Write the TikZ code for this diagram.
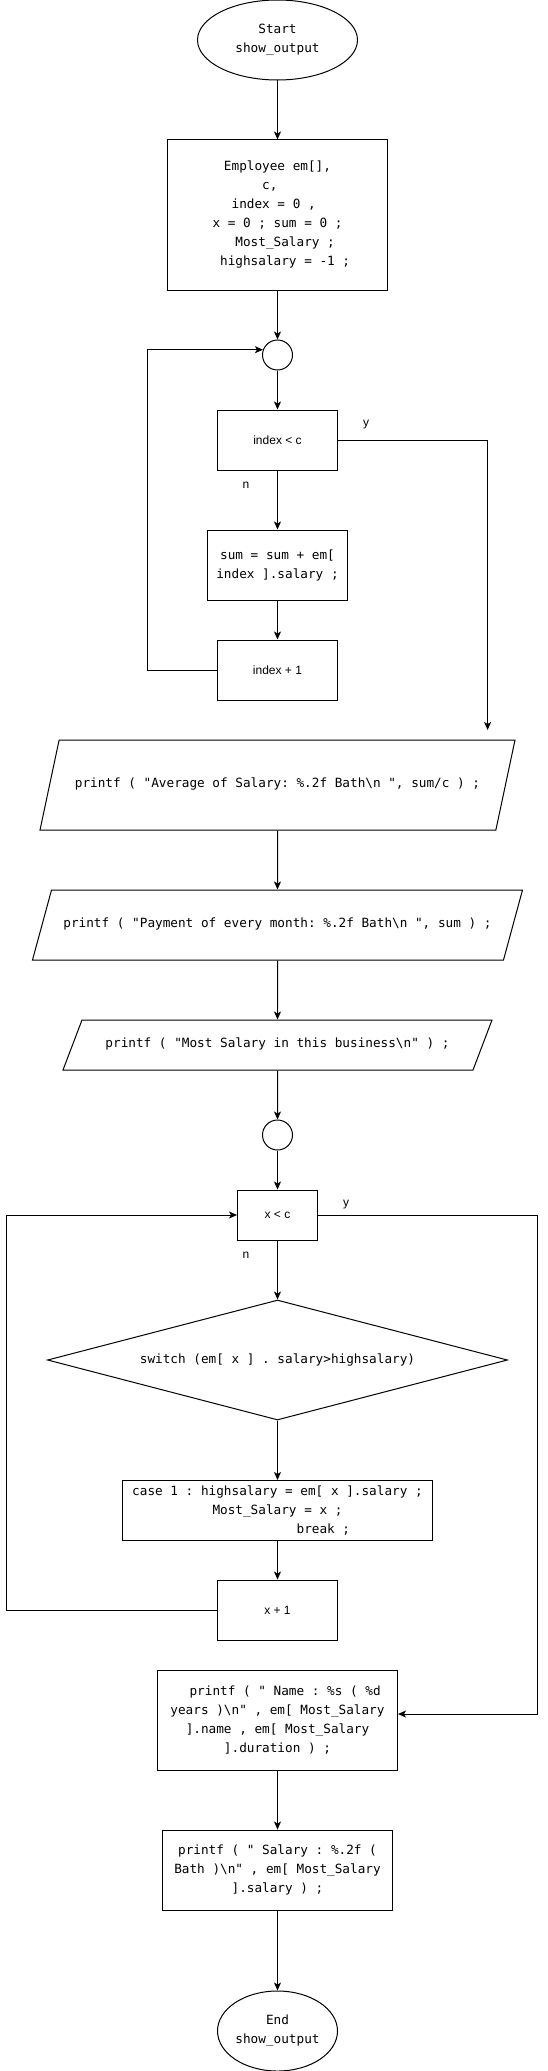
\documentclass[tikz,border=0pt]{standalone}
\usepackage{fontspec}
\setmainfont{Liberation Sans}
\setmonofont{DejaVu Sans Mono}
\usetikzlibrary{shapes.geometric,arrows.meta}
\tikzset{
    >={Stealth[length=8pt,width=7pt,inset=2pt]},
    code/.style={font=\ttfamily\fontsize{12.7}{19}\selectfont, align=center},
    lbl/.style={font=\fontsize{12}{14}\selectfont},
    procbox/.style={draw, rectangle, inner sep=0pt, code},
    termbox/.style={draw, ellipse, inner sep=0pt, code},
    iobox/.style={draw, trapezium, trapezium stretches body=true, inner xsep=0pt, text height=8pt, text depth=3pt, code},
    decbox/.style={draw, diamond, shape aspect=3.83, inner sep=0pt, code},
    joint/.style={draw, circle, minimum size=30pt, inner sep=0pt},
}

\begin{document}
\begin{tikzpicture}[x=1pt, y=-1pt, line width=1pt]
    \useasboundingbox (0,0) rectangle (547,2071);

    % Start and set up
    \node[termbox, minimum width=160pt, minimum height=80pt] (start) at (277.5,40) {Start\\show\_output};
    \node[procbox, minimum width=220pt, minimum height=150pt] (init) at (277.5,215)
        {Employee em[],\\c,\hphantom{xx}\\index = 0 ,\hphantom{x}\\x = 0 ; sum = 0 ;\\\hphantom{xx}Most\_Salary ;\\\hphantom{xx}highsalary = -1 ;};

    % First loop
    \node[joint] (circ1) at (277.5,355) {};
    \node[procbox, font=\fontsize{12}{14}\selectfont, minimum width=120pt, minimum height=60pt] (cond1) at (277.5,440) {index < c};
    \node[procbox, minimum width=140pt, minimum height=70pt] (sum) at (277.5,565) {sum = sum + em[\\index ].salary ;};
    \node[procbox, font=\fontsize{12}{14}\selectfont, minimum width=120pt, minimum height=60pt] (inc1) at (277.5,670) {index + 1};
    \coordinate (ydrop) at (487.6,730);

    % Output lines
    \node[iobox, trapezium left angle=78, trapezium right angle=102, inner ysep=39.5pt, minimum width=475pt] (out1) at (277.5,785)
        {printf ( "Average of Salary: \%.2f Bath\textbackslash n ", sum/c ) ;};
    \node[iobox, trapezium left angle=74.8, trapezium right angle=105.2, inner ysep=29.5pt, minimum width=490pt] (out2) at (277.5,925)
        {printf ( "Payment of every month: \%.2f Bath\textbackslash n ", sum ) ;};
    \node[iobox, trapezium left angle=69.2, trapezium right angle=110.8, inner ysep=19.5pt, minimum width=429pt] (out3) at (277.5,1045)
        {printf ( "Most Salary in this business\textbackslash n" ) ;};

    % Second loop
    \node[joint] (circ2) at (277.5,1135) {};
    \node[procbox, font=\fontsize{12}{14}\selectfont, minimum width=80pt, minimum height=50pt] (cond2) at (277.5,1215) {x < c};
    \node[decbox, minimum width=460pt, minimum height=120pt] (sw) at (277.5,1360) {switch (em[ x ] . salary>highsalary)};
    \node[procbox, minimum width=310pt, minimum height=60pt] (case) at (277.5,1510.5)
        {case 1 : highsalary = em[ x ].salary ;\\Most\_Salary = x ;\\\hphantom{xxxxxxxxxxxx}break ;};
    \node[procbox, font=\fontsize{12}{14}\selectfont, minimum width=120pt, minimum height=60pt] (inc2) at (277.5,1610) {x + 1};

    % Result and end
    \node[procbox, minimum width=240pt, minimum height=100pt] (outname) at (277.5,1720)
        {\hphantom{xx}printf ( " Name : \%s ( \%d\\years )\textbackslash n" , em[ Most\_Salary\\].name , em[ Most\_Salary\\].duration ) ;};
    \node[procbox, minimum width=230pt, minimum height=80pt] (outsal) at (277.5,1870)
        {printf ( " Salary : \%.2f (\\Bath )\textbackslash n" , em[ Most\_Salary\\].salary ) ;};
    \node[termbox, minimum width=120pt, minimum height=80pt] (stop) at (277.5,2031) {End\\show\_output};

    % Branch labels
    \node[lbl] (ylab1) at (366,425) {y};
    \node[lbl] (nlab1) at (246,485) {n};
    \node[lbl] (ylab2) at (346,1205) {y};
    \node[lbl] (nlab2) at (246,1255) {n};

    % Connectors
    \draw[->] (start) -- (init);
    \draw[->] (init) -- (circ1);
    \draw[->] (circ1) -- (cond1);
    \draw[->] (cond1) -- (sum);
    \draw[->] (sum) -- (inc1);
    \draw[->] (inc1.west) -- ++(-70,0) |- (circ1.160);
    \draw[->] (cond1.east) -| (ydrop);
    \draw[->] (out1) -- (out2);
    \draw[->] (out2) -- (out3);
    \draw[->] (out3) -- (circ2);
    \draw[->] (circ2) -- (cond2);
    \draw[->] (cond2) -- (sw);
    \draw[->] (sw) -- (case);
    \draw[->] (case) -- (inc2);
    \draw[->] (inc2.west) -- ++(-210.9,0) |- (cond2.west);
    \draw[->] (cond2.east) -- ++(219,0) |- ([yshift=6pt]outname.east);
    \draw[->] (outname) -- (outsal);
    \draw[->] (outsal) -- (stop);
\end{tikzpicture}
\end{document}
